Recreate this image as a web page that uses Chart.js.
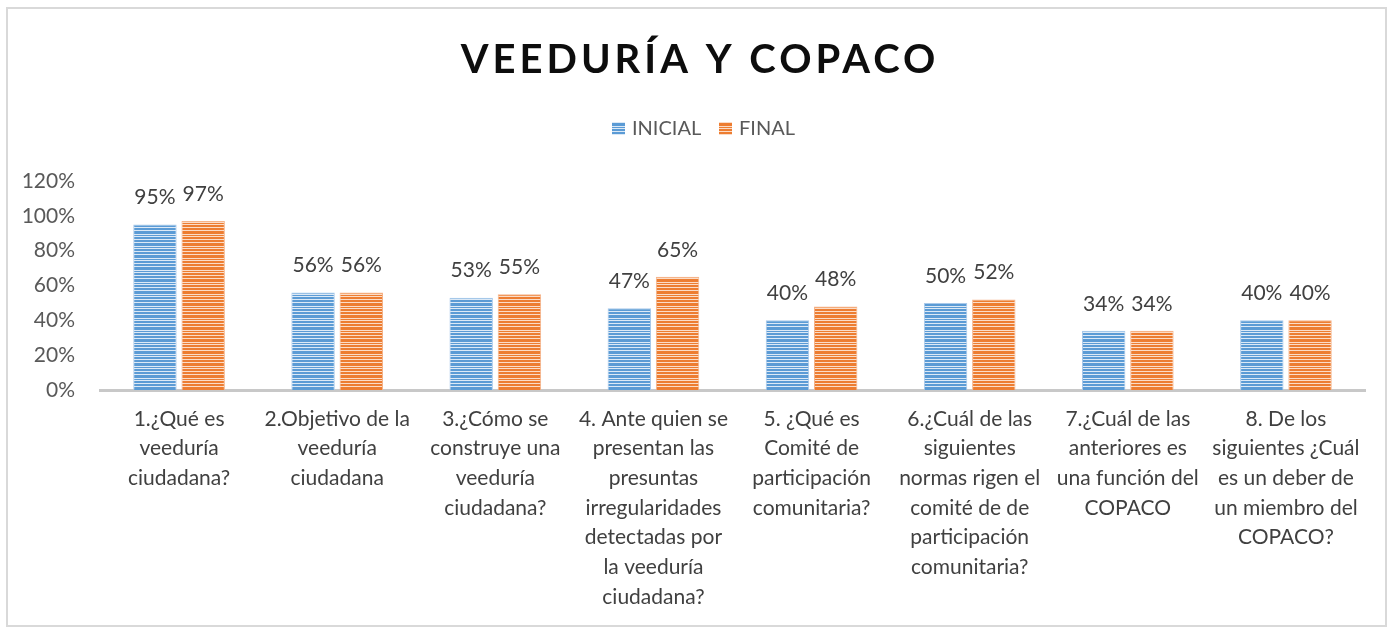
<!DOCTYPE html>
<html>
<head>
<meta charset="utf-8">
<script src="https://cdn.jsdelivr.net/npm/chart.js@4/dist/chart.umd.min.js"></script>
<style>
  body { margin: 0; background: #fff; }
  #wrap { position: absolute; left: 0; top: 0; width: 1388px; height: 628px; }
  #frame { position: absolute; left: 6px; top: 7px; width: 1377px; height: 616px; border: 2px solid #d9d9d9; pointer-events: none; }
</style>
</head>
<body>
<div id="wrap">
  <canvas id="chart" width="1388" height="628"></canvas>
  <div id="frame"></div>
</div>
<script>
// Chart data
const chartTitle = 'VEEDURÍA Y COPACO';
const categories = [
    ['1.¿Qué es', 'veeduría', 'ciudadana?'],
    ['2.Objetivo de la', 'veeduría', 'ciudadana'],
    ['3.¿Cómo se', 'construye una', 'veeduría', 'ciudadana?'],
    ['4. Ante quien se', 'presentan las', 'presuntas', 'irregularidades', 'detectadas por', 'la veeduría', 'ciudadana?'],
    ['5. ¿Qué es', 'Comité de', 'participación', 'comunitaria?'],
    ['6.¿Cuál de las', 'siguientes', 'normas rigen el', 'comité de de', 'participación', 'comunitaria?'],
    ['7.¿Cuál de las', 'anteriores es', 'una función del', 'COPACO'],
    ['8. De los', 'siguientes ¿Cuál', 'es un deber de', 'un miembro del', 'COPACO?']
];
const seriesNames = ['INICIAL', 'FINAL'];
const inicial = [95, 56, 53, 47, 40, 50, 34, 40];
const final = [97, 56, 55, 65, 48, 52, 34, 40];
const yTicks = [0, 20, 40, 60, 80, 100, 120];

const FONT = 'Lato, "Open Sans", sans-serif';

// Horizontal stripe fill like the original bars
function stripes(color, light) {
    const c = document.createElement('canvas');
    c.width = 4; c.height = 12;
    const g = c.getContext('2d');
    const rows = [1, 1, 0, 1, 1, 1, 0, 1, 0, 1, 1, 0];
    rows.forEach((r, i) => {
        g.fillStyle = r ? color : light;
        g.fillRect(0, i, 4, 1);
    });
    return g.createPattern(c, 'repeat');
}

const ctx = document.getElementById('chart').getContext('2d');
const bluePattern = stripes('#5b9bd5', '#dce9f6');
const orangePattern = stripes('#ed7d31', '#fbdcc7');

// Title with letter spacing + legend, drawn by hand
const headerPlugin = {
    id: 'header',
    afterDraw(chart) {
        const c = chart.ctx;
        c.save();
        c.font = 'bold 40px ' + FONT;
        c.letterSpacing = '4px';
        c.fillStyle = '#0d0d0d';
        c.textAlign = 'center';
        c.textBaseline = 'middle';
        c.fillText(chartTitle, 700, 60);

        c.letterSpacing = '0px';
        c.font = '20px ' + FONT;
        c.textAlign = 'left';
        const fills = [bluePattern, orangePattern];
        const xs = [612, 719];
        seriesNames.forEach((name, i) => {
            c.fillStyle = fills[i];
            c.fillRect(xs[i], 122, 13, 13);
            c.fillStyle = '#595959';
            c.fillText(name, xs[i] + 20, 129);
        });
        c.restore();
    }
};

// Value labels above bars
const valueLabels = {
    id: 'valueLabels',
    afterDatasetsDraw(chart) {
        const c = chart.ctx;
        c.save();
        c.font = '21px ' + FONT;
        c.fillStyle = '#404040';
        c.textAlign = 'center';
        c.textBaseline = 'middle';
        chart.data.datasets.forEach((ds, i) => {
            chart.getDatasetMeta(i).data.forEach((bar, j) => {
                c.fillText(ds.data[j] + '%', bar.x, bar.y - 27);
            });
        });
        c.restore();
    }
};

new Chart(ctx, {
    type: 'bar',
    data: {
        labels: categories,
        datasets: [
            { label: seriesNames[0], data: inicial, backgroundColor: bluePattern, borderColor: '#a9c9ea', borderWidth: 1 },
            { label: seriesNames[1], data: final, backgroundColor: orangePattern, borderColor: '#f5b48a', borderWidth: 1 }
        ]
    },
    options: {
        responsive: false,
        animation: false,
        layout: { padding: { top: 181, right: 23, bottom: 16, left: 0 } },
        categoryPercentage: 0.61,
        barPercentage: 0.9,
        plugins: {
            title: { display: false },
            tooltip: { enabled: false },
            legend: { display: false }
        },
        scales: {
            x: {
                afterFit(scale) { scale.height = 222; },
                grid: { display: false, drawTicks: false },
                border: { color: '#c8c8c8', width: 3 },
                ticks: {
                    color: '#404040',
                    font: { family: FONT, size: 21, lineHeight: '29.7px' },
                    padding: 14,
                    maxRotation: 0,
                    autoSkip: false
                }
            },
            y: {
                min: 0,
                max: 120,
                afterFit(scale) { scale.width = 100; },
                afterBuildTicks(scale) { scale.ticks = yTicks.map(v => ({ value: v })); },
                grid: { display: false, drawTicks: false },
                border: { display: false },
                ticks: {
                    color: '#595959',
                    font: { family: FONT, size: 21 },
                    padding: 25,
                    callback: v => v + '%'
                }
            }
        }
    },
    plugins: [headerPlugin, valueLabels]
});
</script>
</body>
</html>
